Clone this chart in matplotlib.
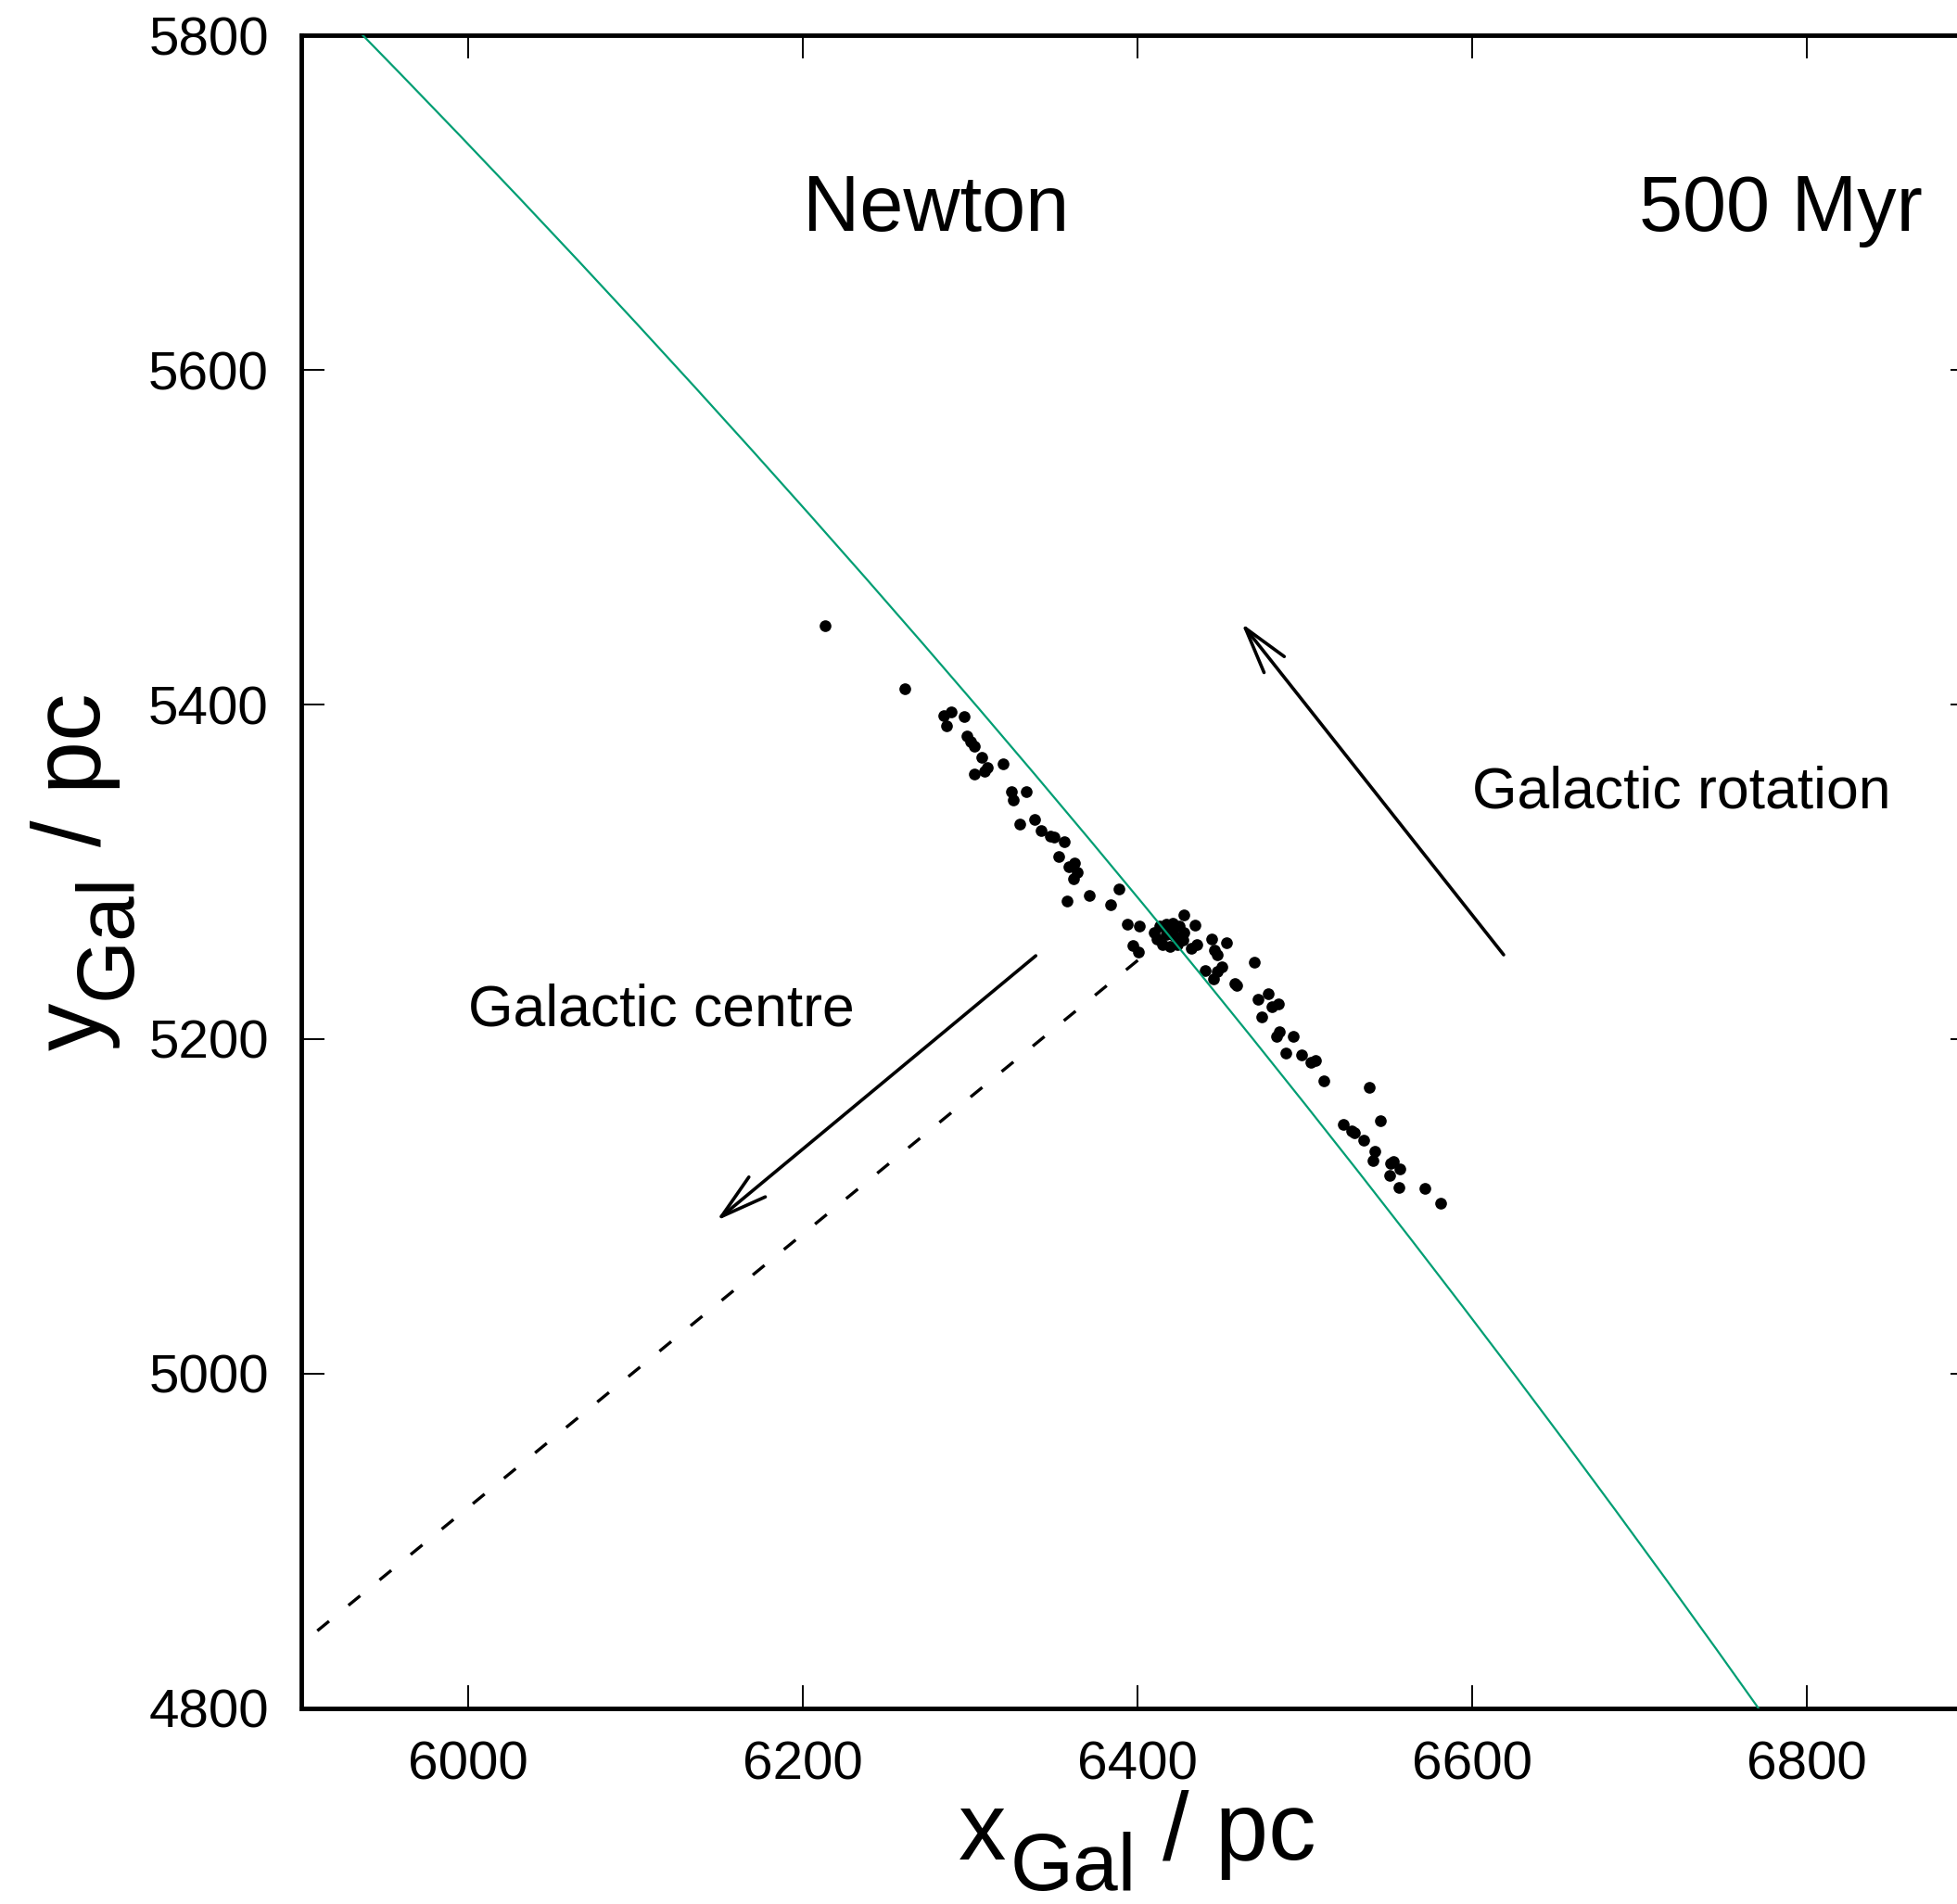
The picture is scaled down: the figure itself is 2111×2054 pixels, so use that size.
import matplotlib
matplotlib.use("Agg")
import matplotlib.pyplot as plt
from matplotlib.patches import Circle, FancyArrowPatch, ArrowStyle
from matplotlib.transforms import IdentityTransform

plt.rcParams['font.family'] = ['Liberation Sans', 'DejaVu Sans']

# ---------------- data (pc) ----------------
star_x = [6213.3, 6260.8, 6284.4, 6288.6, 6285.8, 6296.5, 6298.0, 6300.2, 6302.6, 6307.0,
          6310.3, 6308.5, 6302.6, 6319.6, 6324.7, 6326.0, 6333.4, 6338.6, 6329.7, 6342.6,
          6348.2, 6350.4, 6356.5, 6352.8, 6362.6, 6359.3, 6363.9, 6362.0, 6371.5, 6358.0,
          6389.2, 6384.2, 6393.8, 6401.2, 6397.5, 6400.5, 6427.7, 6434.6, 6432.3, 6435.6,
          6444.3, 6446.1, 6447.9, 6450.4, 6447.9, 6440.6, 6445.7, 6453.1, 6470.1, 6458.1,
          6459.6, 6472.0, 6478.4, 6480.3, 6484.5, 6474.2, 6483.1, 6484.9, 6493.2, 6489.0,
          6498.4, 6503.9, 6506.7, 6511.7, 6538.5, 6545.3, 6523.1, 6528.3, 6529.8, 6535.2,
          6542.2, 6540.7, 6551.4, 6553.2, 6557.0, 6551.0, 6556.6, 6571.7, 6581.3,
          6410.1, 6413.4, 6417.3, 6421.2, 6425.0, 6427.8, 6427.3, 6423.9, 6419.5, 6415.1,
          6411.7, 6417.3, 6421.7, 6419.5]
star_y = [5447.1, 5409.3, 5393.5, 5395.4, 5387.1, 5393.0, 5381.2, 5377.9, 5375.1, 5368.6,
          5362.2, 5360.3, 5358.5, 5364.4, 5347.9, 5343.1, 5347.8, 5331.3, 5328.4, 5324.7,
          5321.5, 5320.9, 5318.2, 5309.0, 5305.3, 5303.0, 5299.7, 5295.7, 5285.9, 5282.7,
          5289.7, 5280.3, 5268.9, 5267.6, 5255.9, 5252.2, 5274.4, 5268.0, 5254.1, 5256.5,
          5259.7, 5253.2, 5250.4, 5243.0, 5240.3, 5240.8, 5236.0, 5257.8, 5245.8, 5233.2,
          5231.9, 5224.0, 5227.0, 5219.4, 5221.2, 5213.4, 5201.5, 5204.2, 5201.8, 5191.8,
          5190.4, 5186.1, 5187.1, 5175.0, 5171.3, 5151.2, 5148.8, 5145.1, 5144.2, 5139.6,
          5133.1, 5127.5, 5125.7, 5126.6, 5122.5, 5118.3, 5111.3, 5110.6, 5101.7,
          5263.7, 5267.6, 5268.7, 5269.2, 5267.6, 5263.7, 5259.3, 5256.5, 5255.4, 5256.5,
          5259.8, 5262.6, 5262.0, 5265.4]

orbit_radius = 8300.0
centre_line_x = [6400.3, 5908.9]
centre_line_y = [5247.1, 4845.5]
rotation_arrow_x = [6619.0, 6462.3]   # tail, tip
rotation_arrow_y = [5250.4, 5448.6]
centre_arrow_x = [6339.3, 6148.5]
centre_arrow_y = [5249.8, 5091.5]

x_ticks = [6000, 6200, 6400, 6600, 6800]
y_ticks = [4800, 5000, 5200, 5400, 5600, 5800]
x_limits = [5900, 6900]
y_limits = [4800, 5800]

annotations = [
    (6600, 5338, "Galactic rotation", 45),
    (6000, 5208, "Galactic centre", 45),
    (6200, 5683.4, "Newton", 61),
    (6700, 5683.4, "500 Myr", 61),
]

# ---------------- figure ----------------
W, H, DPI = 2111, 2054, 100
fig = plt.figure(figsize=(W / DPI, H / DPI), dpi=DPI)
side = 1804.4
ax = fig.add_axes([324.6 / W, 211.3 / H, side / W, side / H])
ax.set_xlim(*x_limits)
ax.set_ylim(*y_limits)

ax.plot(star_x, star_y, 'o', ms=9.1, mew=0, color='black', zorder=3)
ax.add_patch(Circle((0, 0), orbit_radius, fill=False, edgecolor='#009e73',
                    lw=1.6, zorder=4))
ax.plot(centre_line_x, centre_line_y, color='black', lw=2.4,
        linestyle=(0, (4.9, 8.1)), zorder=2)

for ax_x, ax_y in [(rotation_arrow_x, rotation_arrow_y), (centre_arrow_x, centre_arrow_y)]:
    arr = FancyArrowPatch((ax_x[0], ax_y[0]), (ax_x[1], ax_y[1]),
                          arrowstyle=ArrowStyle('->', head_length=36, head_width=10),
                          mutation_scale=1, lw=2.6, color='black',
                          shrinkA=0, shrinkB=0, zorder=5)
    ax.add_patch(arr)

for x, y, s, fs in annotations:
    ax.text(x, y, s, fontsize=fs, ha='left', va='baseline')

ax.set_xticks(x_ticks)
ax.set_yticks(y_ticks)
ax.tick_params(direction='in', length=18, width=1.4, top=True, right=True,
               labelsize=42, pad=25, colors='black')
for s in ax.spines.values():
    s.set_linewidth(3.5)

# ---------------- axis labels with large subscripts ----------------
fig.canvas.draw()
renderer = fig.canvas.get_renderer()
ident = IdentityTransform()

def measure(s, fs):
    t = fig.text(0, 0, s, fontsize=fs, transform=ident)
    w = t.get_window_extent(renderer).width
    t.remove()
    return w

MAIN, SUB, SHIFT = 74, 63, 33
space = 0.278 * MAIN * DPI / 72.0

def label_pieces(letter):
    return [(letter, MAIN, 0, 4), ("Gal", SUB, SHIFT, space), ("/ pc", MAIN, 0, 0)]

def compose(letter, centre, baseline, vertical):
    pieces = label_pieces(letter)
    widths = [measure(s, fs) for s, fs, _, _ in pieces]
    total = sum(widths) + sum(g for _, _, _, g in pieces[:-1])
    pos = centre - total / 2.0
    for (s, fs, shift, gap), w in zip(pieces, widths):
        if vertical:
            fig.text(baseline + shift, pos, s, fontsize=fs, transform=ident,
                     rotation=90, rotation_mode='anchor', ha='left', va='baseline')
        else:
            fig.text(pos, baseline - shift, s, fontsize=fs, transform=ident,
                     ha='left', va='baseline')
        pos += w + gap

compose("x", (324.6 + 324.6 + side) / 2.0, 48, vertical=False)
compose("y", H - (38.3 + 1842.7) / 2.0, 108, vertical=True)

fig.savefig("out.png", dpi=DPI)
